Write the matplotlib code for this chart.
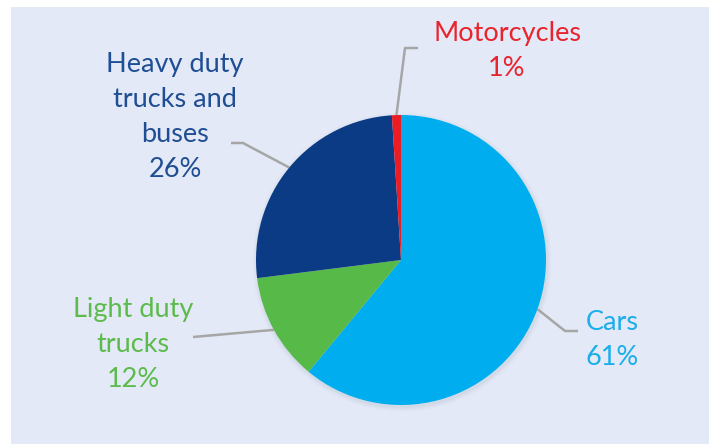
import numpy as np
import matplotlib
matplotlib.use("Agg")
import matplotlib.pyplot as plt
from matplotlib.patches import Rectangle

categories = ["Cars", "Light duty\ntrucks", "Heavy duty\ntrucks and\nbuses", "Motorcycles"]
shares = [61, 12, 26, 1]
colors = ["#00AEEF", "#57B947", "#0B3B84", "#EC1C24"]
text_colors = ["#1AAEEA", "#5DBB4C", "#1F4E94", "#E8242E"]

W, H = 709, 444
fig = plt.figure(figsize=(W / 100, H / 100), dpi=100)
fig.patch.set_facecolor("white")
ax = fig.add_axes([0, 0, 1, 1])

ax.add_patch(Rectangle((11, 7), W - 11, H - 7, facecolor="#E3E9F6", edgecolor="none", zorder=0))

cx, cy, R = 401, 260, 145
# soft shadow
for i, a in enumerate(np.linspace(0.05, 0.01, 5)):
    ax.add_patch(plt.Circle((cx + 1, cy + 2), R + 1 + i, color="#7f8aa0", alpha=a, zorder=1, lw=0))

wedges, _ = ax.pie(shares, colors=colors, startangle=-90, counterclock=True,
                   center=(cx, cy), radius=R, frame=True,
                   wedgeprops=dict(linewidth=0, zorder=2))
ax.set_xlim(0, W)
ax.set_ylim(H, 0)
ax.axis("off")

font = ["Lato", "DejaVu Sans"]
fs = 19.5

# label positions (text centres), leader elbows
label_pos = [(612, 340), (133, 344), (175, 117), (507, 51)]
elbows = [[(565, 331), (578, 331)],
          [(193, 337)],
          [(243, 143), (231, 143)],
          [(405, 48), (418, 48)]]

for w, cat, sh, tc, lp, el in zip(wedges, categories, shares, text_colors, label_pos, elbows):
    ang = np.deg2rad((w.theta1 + w.theta2) / 2)
    px = cx + R * np.cos(ang)
    py = cy + R * np.sin(ang)
    xs = [px] + [p[0] for p in el]
    ys = [py] + [p[1] for p in el]
    ax.plot(xs, ys, color="#A6A6A6", lw=1.8, zorder=1.5, solid_capstyle="butt")
    ax.text(lp[0], lp[1], f"{cat}\n{sh}%", ha="center", va="center", color=tc,
            fontsize=fs, family=font, linespacing=1.5, zorder=3)

fig.savefig("out.png", dpi=100, facecolor="white")
